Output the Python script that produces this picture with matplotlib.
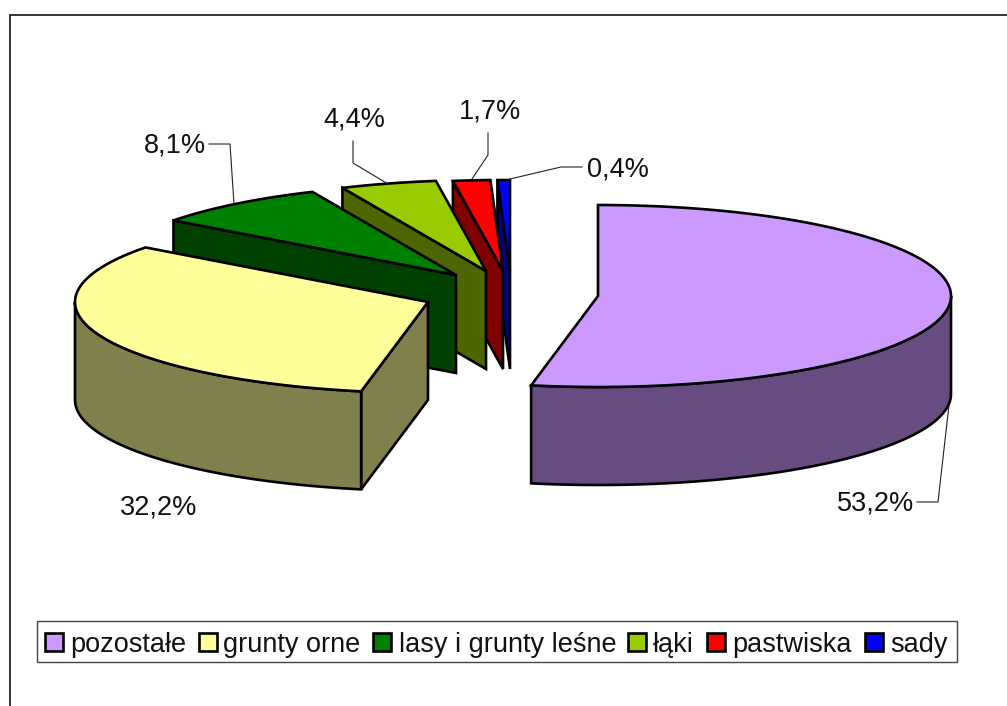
import numpy as np
import matplotlib
matplotlib.use("Agg")
import matplotlib.pyplot as plt
from matplotlib.patches import Polygon, Rectangle

plt.rcParams["font.family"] = ["Liberation Sans", "DejaVu Sans"]

categories = ["pozostałe", "grunty orne", "lasy i grunty leśne", "łąki", "pastwiska", "sady"]
shares = [53.2, 32.2, 8.1, 4.4, 1.7, 0.4]

top_colors = ["#CC99FF", "#FFFF99", "#008000", "#99CC00", "#FF0000", "#0000FF"]
side_colors = ["#664C80", "#80804D", "#004000", "#4D6600", "#800000", "#000080"]

# exploded slice apexes, image pixels
apex_x = [598, 428, 456, 486, 503, 510]
apex_y = [296, 302, 275, 271, 271, 271]
RX, RY, DEPTH = 353, 91, 98
SKEW = 0.6  # inner cuts sit a little before the exact angle in the source
LW = 1.9

# label left edge, baseline
label_x = [837, 120, 144, 323, 459, 587]
label_y = [511, 515, 153, 127, 119, 176]
leaders = [
    [(917, 502), (938, 502), (949, 405)],
    None,
    [(209, 144), (230, 144), (234, 204)],
    [(353, 141), (353, 163), (388, 184)],
    [(488, 133), (488, 155), (472, 179)],
    [(582, 167), (561, 167), (510, 179)],
]
swatch_x = [45, 199, 373, 628, 707, 865]
legend_text_x = [70, 223, 399, 653, 732, 890]


def rim(cx, cy, a0, a1, n=120):
    # angles in degrees clockwise from 12 o'clock
    t = np.radians(np.linspace(a0, a1, n))
    return np.column_stack([cx + RX * np.sin(t), cy - RY * np.cos(t)])


def edge_face(ax, cx, cy, ang, color):
    p = rim(cx, cy, ang, ang, 1)[0]
    pts = [(cx, cy), p, (p[0], p[1] + DEPTH), (cx, cy + DEPTH)]
    ax.add_patch(Polygon(pts, fc=color, ec="black", lw=LW, joinstyle="miter"))


def draw_slice(ax, cx, cy, a0, a1, top, side):
    # cut faces turned towards the viewer
    if np.sin(np.radians(a0)) < -1e-6:
        edge_face(ax, cx, cy, a0, side)
    if np.sin(np.radians(a1)) > 1e-6:
        edge_face(ax, cx, cy, a1, side)
    # outer wall, only the front half of the ellipse shows
    w0, w1 = max(a0, 90), min(a1, 270)
    if w1 > w0:
        r = rim(cx, cy, w0, w1)
        pts = np.vstack([r, r[::-1] + [0, DEPTH]])
        ax.add_patch(Polygon(pts, fc=side, ec="black", lw=LW))
    pts = np.vstack([[(cx, cy)], rim(cx, cy, a0, a1)])
    ax.add_patch(Polygon(pts, fc=top, ec="black", lw=LW, joinstyle="miter"))


fig = plt.figure(figsize=(10.07, 7.06), dpi=100)
ax = fig.add_axes([0, 0, 1, 1])
ax.set_xlim(0, 1007)
ax.set_ylim(706, 0)
ax.axis("off")

# chart area frame runs off the image on the right and bottom
ax.plot([10, 10, 1007], [706, 15, 15], color="#111111", lw=1.2, solid_joinstyle="miter")

ends = np.cumsum(shares) / sum(shares) * 360
starts = np.concatenate([[0], ends[:-1]])
starts[1:] -= SKEW
ends[:-1] -= SKEW
for i in range(len(shares) - 1, -1, -1):
    draw_slice(ax, apex_x[i], apex_y[i], starts[i], ends[i], top_colors[i], side_colors[i])

for i, v in enumerate(shares):
    ax.text(label_x[i], label_y[i], f"{v:.1f}".replace(".", ",") + "%",
            fontsize=19.5, color="#111111", ha="left", va="baseline")
    if leaders[i]:
        xs, ys = zip(*leaders[i])
        ax.plot(xs, ys, color="#222222", lw=0.8)

ax.add_patch(Rectangle((37, 621), 920, 41, fc="white", ec="#444444", lw=1.0))
for i, name in enumerate(categories):
    ax.add_patch(Rectangle((swatch_x[i], 633), 18, 18, fc=top_colors[i], ec="black", lw=LW))
    ax.text(legend_text_x[i], 652, name, fontsize=19.5, color="#111111", ha="left", va="baseline")

fig.savefig("out.png", dpi=100)
plt.close(fig)
